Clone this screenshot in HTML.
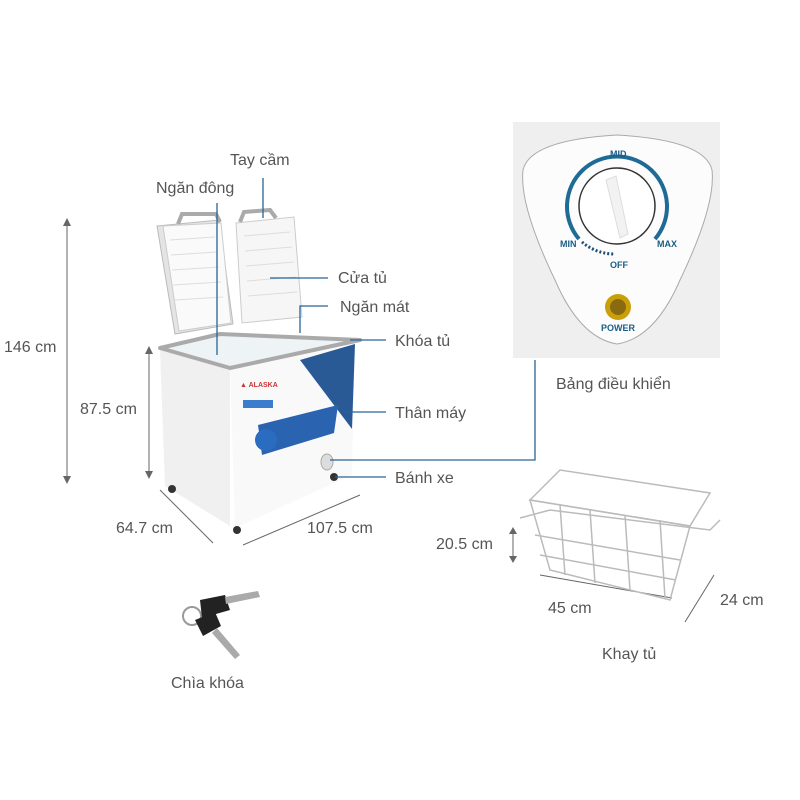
<!DOCTYPE html>
<html><head><meta charset="utf-8"><style>
body{margin:0;width:800px;height:800px;background:#fff;overflow:hidden}
svg{display:block}
text{font-family:"Liberation Sans",sans-serif;fill:#555;font-size:16px}
.s{font-size:9px;font-weight:bold;fill:#1a5e86}
</style></head><body>
<svg width="800" height="800" viewBox="0 0 800 800">
<g stroke="#666" stroke-width="1" fill="#666">
<line x1="67" y1="222" x2="67" y2="480"/>
<line x1="149" y1="350" x2="149" y2="475"/>
<line x1="160" y1="490" x2="213" y2="543"/>
<line x1="243" y1="545" x2="360" y2="495"/>
<line x1="513" y1="530" x2="513" y2="560"/>
<line x1="540" y1="575" x2="672" y2="598"/>
<line x1="685" y1="622" x2="714" y2="575"/>
</g>
<g fill="#666">
<path d="M67 218l-4 8h8z"/><path d="M67 484l-4-8h8z"/>
<path d="M149 346l-4 8h8z"/><path d="M149 479l-4-8h8z"/>
<path d="M513 527l-4 7h8z"/><path d="M513 563l-4-7h8z"/>
</g>
<text x="4" y="352">146 cm</text>
<text x="80" y="414">87.5 cm</text>
<text x="116" y="533">64.7 cm</text>
<text x="307" y="533">107.5 cm</text>
<text x="436" y="549">20.5 cm</text>
<text x="548" y="613">45 cm</text>
<text x="720" y="605">24 cm</text>
<text x="602" y="659">Khay tủ</text>
<text x="171" y="688">Chìa khóa</text>
<text x="556" y="389">Bảng điều khiển</text>
<text x="230" y="165">Tay cầm</text>
<text x="156" y="193">Ngăn đông</text>
<text x="338" y="283">Cửa tủ</text>
<text x="340" y="312">Ngăn mát</text>
<text x="395" y="346">Khóa tủ</text>
<text x="395" y="418">Thân máy</text>
<text x="395" y="483">Bánh xe</text>
<g>
<path d="M157 226l62-6 14 104-58 10z" fill="#e2e4e6" stroke="#bbb"/>
<path d="M163 226l58-3 10 100-52 8z" fill="#fafafa" stroke="#ccc"/>
<path d="M236 223l58-6 8 100-60 6z" fill="#f6f6f6" stroke="#ccc"/>
<path d="M178 224l4-10 34 0 4 8" fill="none" stroke="#aaa" stroke-width="4"/>
<path d="M240 222l4-10 26-2 6 8" fill="none" stroke="#aaa" stroke-width="4"/>
<g stroke="#ddd">
<line x1="170" y1="240" x2="215" y2="237"/><line x1="171" y1="255" x2="217" y2="252"/><line x1="172" y1="270" x2="219" y2="267"/><line x1="173" y1="285" x2="221" y2="282"/><line x1="175" y1="300" x2="223" y2="297"/>
<line x1="244" y1="236" x2="290" y2="232"/><line x1="245" y1="251" x2="292" y2="247"/><line x1="246" y1="266" x2="294" y2="262"/><line x1="247" y1="281" x2="296" y2="277"/><line x1="248" y1="296" x2="297" y2="292"/>
</g>
<path d="M160 350l70 18 0 158-65-40z" fill="#f0f0f0"/>
<path d="M230 368l125-28-3 135-117 53z" fill="#f9f9f9"/>
<path d="M160 348l60-14 140 6-130 28z" fill="#eef3f6" stroke="#aaa" stroke-width="4" stroke-linejoin="round"/>
<path d="M300 360l55-16-3 85z" fill="#2a5a96"/>
<path d="M258 425l80-20-4 28-72 22z" fill="#2a64b0"/>
<circle cx="266" cy="440" r="11" fill="#2a6cc0"/>
<rect x="243" y="400" width="30" height="8" fill="#3c7ccc"/>
<text x="240" y="387" style="font-size:7px;fill:#c33;font-weight:bold">▲ ALASKA</text>
<circle cx="172" cy="489" r="4" fill="#333"/><circle cx="237" cy="530" r="4" fill="#333"/><circle cx="334" cy="477" r="4" fill="#333"/>
<ellipse cx="327" cy="462" rx="6" ry="8" fill="#ddd" stroke="#aaa"/>
</g>
<g stroke="#2a6496" stroke-width="1.3" fill="none">
<line x1="263" y1="178" x2="263" y2="218"/>
<line x1="217" y1="203" x2="217" y2="355"/>
<line x1="270" y1="278" x2="328" y2="278"/>
<path d="M300 333V306h28"/>
<line x1="350" y1="340" x2="386" y2="340"/>
<line x1="345" y1="412" x2="386" y2="412"/>
<line x1="335" y1="477" x2="386" y2="477"/>
<path d="M330 460H535V360"/>
</g>
<rect x="513" y="122" width="207" height="236" fill="#efefef"/>
<path d="M523 170Q530 140 617 135Q705 140 712 170Q716 205 680 280Q655 338 617 344Q580 338 555 280Q519 205 523 170z" fill="#fcfcfc" stroke="#aaa"/>
<path d="M579 239A50 50 0 1 1 655 239" fill="none" stroke="#1e6b96" stroke-width="4"/>
<path d="M582 242A50 50 0 0 0 615 254" fill="none" stroke="#1e4e7a" stroke-width="3" stroke-dasharray="2 2"/>
<circle cx="617" cy="206" r="38" fill="#fff" stroke="#333" stroke-width="1.5"/>
<path d="M606 180l10-4 12 58-8 4z" fill="#f2f2f2" stroke="#ddd"/>
<text class="s" x="610" y="157">MID</text>
<text class="s" x="560" y="247">MIN</text>
<text class="s" x="657" y="247">MAX</text>
<text class="s" x="610" y="268">OFF</text>
<circle cx="618" cy="307" r="13" fill="#c9a008"/><circle cx="618" cy="307" r="8" fill="#8a6a10"/>
<text class="s" x="601" y="331">POWER</text>
<g fill="none" stroke="#bbb" stroke-width="1.5">
<path d="M530 500l30-30 150 23-20 33z"/>
<path d="M530 500l20 70 120 30 20-74z"/>
<path d="M520 518l30-8 160 20 10-10"/>
<line x1="560" y1="505" x2="565" y2="575"/><line x1="590" y1="510" x2="595" y2="583"/><line x1="625" y1="515" x2="630" y2="590"/><line x1="660" y1="520" x2="665" y2="598"/>
<line x1="535" y1="535" x2="680" y2="560"/><line x1="540" y1="555" x2="676" y2="580"/>
</g>
<circle cx="192" cy="616" r="9" fill="none" stroke="#999" stroke-width="2"/>
<path d="M200 600l25-5 5 15-28 8z" fill="#222"/>
<path d="M225 597l33-6 2 6-34 7z" fill="#aaa"/>
<path d="M195 620l20-8 6 14-18 10z" fill="#222"/>
<path d="M217 628l23 27-5 4-23-26z" fill="#aaa"/>
</svg>
</body></html>
